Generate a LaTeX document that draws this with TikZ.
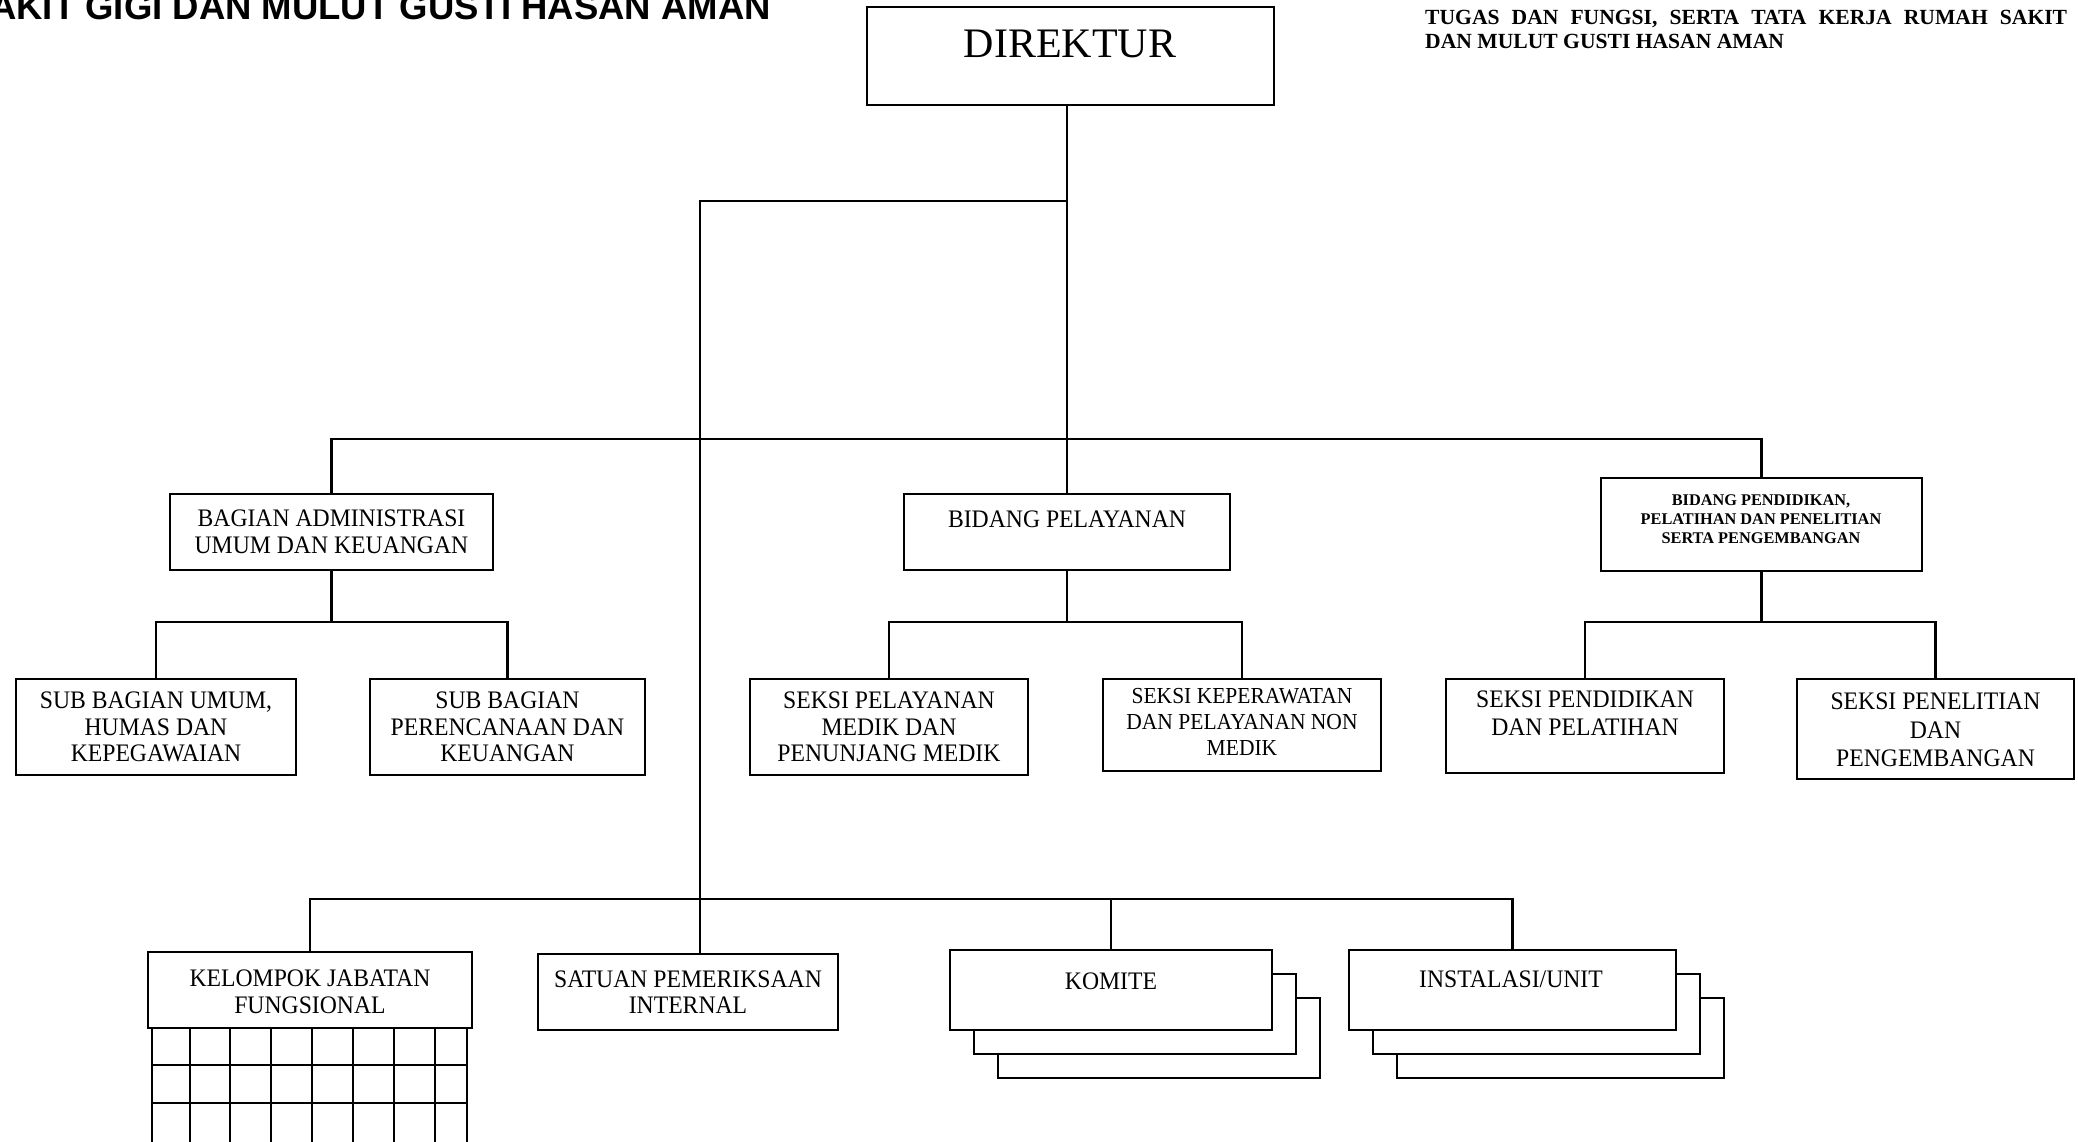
\documentclass[tikz,border=0pt]{standalone}
\usepackage{fontspec}
\setmainfont{Liberation Serif}
\newfontfamily\sempit{Liberation Serif}[FakeStretch=0.94]
\newfontfamily\judulfont{Liberation Sans}

\tikzset{
  kotak/.style={draw, line width=2.2pt, inner sep=0pt, outer sep=0pt},
  teks/.style={align=center, inner sep=0pt, font=\sempit\fontsize{25.2}{26.5}\selectfont},
  garis/.style={line width=2.5pt},
  lapis/.style={line width=2.2pt, line join=miter},
}

\begin{document}
\begin{tikzpicture}[x=1pt,y=-1pt]
\useasboundingbox (0,0) rectangle (2078,1141);

\node[anchor=base west, inner sep=0pt, font=\judulfont\bfseries\fontsize{36.5}{40}\selectfont] (judul) at (-10,19) {AKIT GIGI DAN MULUT GUSTI HASAN AMAN};
\node[anchor=base west, inner sep=0pt, font=\bfseries\fontsize{21.6}{24}\selectfont] (sumber1) at (1425,24) {\makebox[642pt][s]{TUGAS DAN FUNGSI, SERTA TATA KERJA RUMAH SAKIT}};
\node[anchor=base west, inner sep=0pt, font=\bfseries\fontsize{21.6}{24}\selectfont] (sumber2) at (1425,48) {DAN MULUT GUSTI HASAN AMAN};

\node[kotak, minimum width=407pt, minimum height=98pt] (dir) at (1070.5,56) {};
\node[teks, font=\rmfamily\fontsize{42}{44}\selectfont] (tdir) at (1070,44) {DIREKTUR};

\node[kotak, minimum width=323pt, minimum height=76pt] (adm) at (331.5,532) {};
\node[teks] (tadm) at (adm) {BAGIAN ADMINISTRASI\\UMUM DAN KEUANGAN};
\node[kotak, minimum width=326pt, minimum height=76pt] (pel) at (1067,532) {};
\node[teks] (tpel) at (1067,519) {BIDANG PELAYANAN};
\node[kotak, minimum width=321pt, minimum height=93pt] (pdk) at (1761.5,524.5) {};
\node[teks, font=\rmfamily\bfseries\fontsize{16.3}{19}\selectfont] (tpdk) at (1761,519) {BIDANG PENDIDIKAN,\\PELATIHAN DAN PENELITIAN\\SERTA PENGEMBANGAN};

\node[kotak, minimum width=280pt, minimum height=96pt] (sbu) at (156,727) {};
\node[teks] (tsbu) at (sbu) {SUB BAGIAN UMUM,\\HUMAS DAN\\KEPEGAWAIAN};
\node[kotak, minimum width=275pt, minimum height=96pt] (sbp) at (507.5,727) {};
\node[teks] (tsbp) at (sbp) {SUB BAGIAN\\PERENCANAAN DAN\\KEUANGAN};
\node[kotak, minimum width=278pt, minimum height=96pt] (spm) at (889,727) {};
\node[teks] (tspm) at (spm) {SEKSI PELAYANAN\\MEDIK DAN\\PENUNJANG MEDIK};
\node[kotak, minimum width=278pt, minimum height=92pt] (skp) at (1242,725) {};
\node[teks, font=\sempit\fontsize{22.9}{26}\selectfont] (tskp) at (1242,722) {SEKSI KEPERAWATAN\\DAN PELAYANAN NON\\MEDIK};
\node[kotak, minimum width=278pt, minimum height=94pt] (spd) at (1585,726) {};
\node[teks, font=\sempit\fontsize{25.2}{28}\selectfont] (tspd) at (1585,713) {SEKSI PENDIDIKAN\\DAN PELATIHAN};
\node[kotak, minimum width=277pt, minimum height=100pt] (spp) at (1935.5,729) {};
\node[teks, font=\sempit\fontsize{25.2}{28.5}\selectfont] (tspp) at (1935.5,730) {SEKSI PENELITIAN\\DAN\\PENGEMBANGAN};

\node[kotak, minimum width=324pt, minimum height=76pt] (jf) at (310,990) {};
\node[teks] (tjf) at (310,992) {KELOMPOK JABATAN\\FUNGSIONAL};
\node[kotak, minimum width=300pt, minimum height=76pt] (spi) at (688,992) {};
\node[teks] (tspi) at (688,992) {SATUAN PEMERIKSAAN\\INTERNAL};
\node[kotak, minimum width=322pt, minimum height=80pt] (kom) at (1111,990) {};
\node[teks] (tkom) at (1111,981) {KOMITE};
\node[kotak, minimum width=327pt, minimum height=80pt] (ins) at (1512.5,990) {};
\node[teks] (tins) at (1511,979) {INSTALASI/UNIT};

\coordinate (busAtas) at (0,439);
\coordinate (busKiri) at (700,201);
\coordinate (busBawah) at (0,899);
\coordinate (cab) at (0,622);

\draw[garis] (pel.north |- dir.south) -- (pel.north);
\draw[garis] (adm.north) -- (adm.north |- busAtas) -- (pdk.north |- busAtas) -- (pdk.north);
\draw[garis] (pel.north |- busKiri) -- (busKiri) -- (busKiri |- spi.north);
\draw[garis] (jf.north) -- (jf.north |- busBawah) -- (ins.north |- busBawah) -- (ins.north);
\draw[garis] (kom.north) -- (kom.north |- busBawah);

\draw[garis] (adm.south) -- (adm.south |- cab);
\draw[garis] (sbu.north) -- (sbu.north |- cab) -- (sbp.north |- cab) -- (sbp.north);
\draw[garis] (pel.south) -- (pel.south |- cab);
\draw[garis] (spm.north) -- (spm.north |- cab) -- (skp.north |- cab) -- (skp.north);
\draw[garis] (pdk.south) -- (pdk.south |- cab);
\draw[garis] (spd.north) -- (spd.north |- cab) -- (spp.north |- cab) -- (spp.north);

\foreach \d in {24,48} {
  \draw[lapis] ([shift={(\d-24,\d)}]kom.north east) -- ([shift={(\d,\d)}]kom.north east) -- ([shift={(\d,\d)}]kom.south east) -- ([shift={(\d,\d)}]kom.south west) -- ([shift={(\d,\d-24)}]kom.south west);
  \draw[lapis] ([shift={(\d-24,\d)}]ins.north east) -- ([shift={(\d,\d)}]ins.north east) -- ([shift={(\d,\d)}]ins.south east) -- ([shift={(\d,\d)}]ins.south west) -- ([shift={(\d,\d-24)}]ins.south west);
}

\foreach \gx in {152,190,230,271,312,353,394,435,467}
  \draw[garis] (\gx,1028) -- (\gx,1150);
\foreach \gy in {1065,1103}
  \draw[garis] (152,\gy) -- (467,\gy);

\end{tikzpicture}
\end{document}
